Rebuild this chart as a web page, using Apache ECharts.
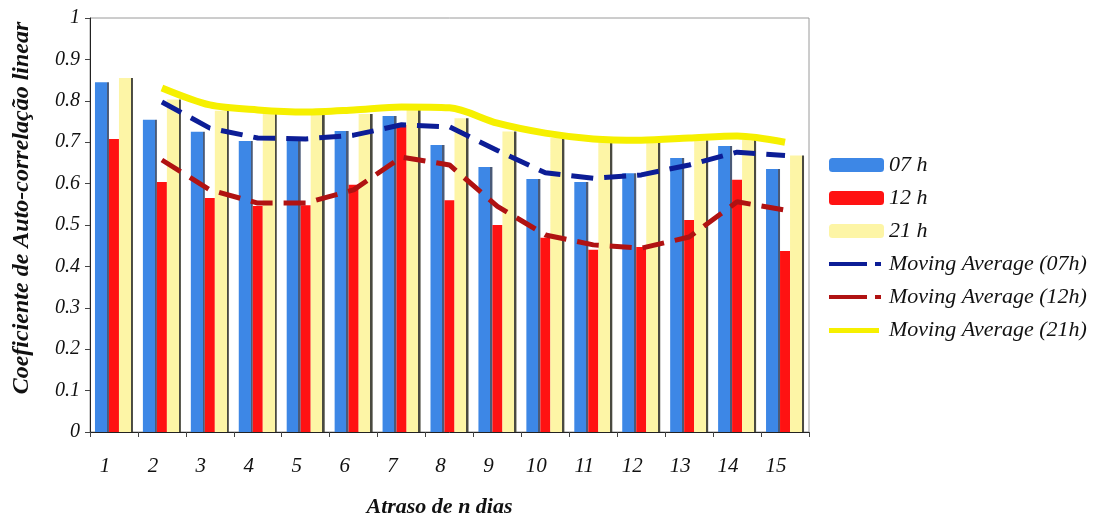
<!DOCTYPE html>
<html><head><meta charset="utf-8">
<script src="https://cdn.jsdelivr.net/npm/echarts@6/dist/echarts.min.js"></script>
<style>html,body{margin:0;padding:0;background:#fff;}#c{width:1103px;height:523px;}</style>
</head><body><div id="c"></div>
<script>
var categories = ['1','2','3','4','5','6','7','8','9','10','11','12','13','14','15'];
var yTicks = [0,0.1,0.2,0.3,0.4,0.5,0.6,0.7,0.8,0.9,1];
var h07 = [0.845,0.754,0.725,0.703,0.710,0.727,0.763,0.693,0.640,0.611,0.604,0.625,0.662,0.691,0.635];
var h12 = [0.708,0.604,0.565,0.546,0.548,0.597,0.742,0.560,0.500,0.469,0.440,0.447,0.512,0.609,0.437];
var h21 = [0.855,0.803,0.776,0.771,0.767,0.768,0.780,0.758,0.726,0.710,0.700,0.702,0.705,0.706,0.668];
var ma07 = [null,0.797,0.734,0.710,0.708,0.717,0.742,0.737,0.680,0.626,0.613,0.621,0.645,0.676,0.668];
var ma12 = [null,0.657,0.585,0.553,0.553,0.585,0.664,0.645,0.545,0.476,0.452,0.444,0.471,0.556,0.536];
var ma21 = [null,0.831,0.790,0.778,0.773,0.778,0.785,0.783,0.746,0.722,0.708,0.705,0.710,0.715,0.700];

var FONT = '"Liberation Serif", "Times New Roman", serif';
var DASH_ICON = 'path://M0,0M55,14M0,5h38v4h-38zM46,5h6v4h-6z';
var SOLID_ICON = 'path://M0,0M55,14M0,5h50v5h-50z';
function strip(base, dark, f) {
  return new echarts.graphic.LinearGradient(0,0,1,0,[
    {offset:0,color:base},{offset:f,color:base},{offset:f,color:dark},{offset:1,color:dark}]);
}
var chart = echarts.init(document.getElementById('c'));
chart.setOption({
  animation:false,
  backgroundColor:'#fff',
  grid:{left:90,right:294,top:18,bottom:91,show:true,borderColor:'#9a9a9a',borderWidth:1,
    outerBoundsMode:'none',containLabel:false},
  legend:{
    orient:'vertical', left:824, top:149, itemWidth:55, itemHeight:14, itemGap:11,
    textStyle:{fontFamily:FONT,fontStyle:'italic',fontSize:22,color:'#111',lineHeight:20},
    data:[
      {name:'07 h',itemStyle:{color:'#3d87e6'}},
      {name:'12 h',itemStyle:{color:'#ff1212'}},
      {name:'21 h',itemStyle:{color:'#fdf5a6'}},
      {name:'Moving Average (07h)',icon:DASH_ICON,itemStyle:{color:'#0c1d96'}},
      {name:'Moving Average (12h)',icon:DASH_ICON,itemStyle:{color:'#b01212'}},
      {name:'Moving Average (21h)',icon:SOLID_ICON,itemStyle:{color:'#f6f000'}}]
  },
  xAxis:{
    type:'category', data:categories, boundaryGap:true,
    axisLine:{lineStyle:{color:'#222',width:1}},
    axisTick:{show:true,length:5,lineStyle:{color:'#444'}},
    axisLabel:{fontFamily:FONT,fontStyle:'italic',fontSize:21,color:'#111',margin:24,padding:[0,18,0,0]},
    name:'Atraso de n dias', nameLocation:'middle', nameGap:64,
    nameTextStyle:{fontFamily:FONT,fontStyle:'italic',fontWeight:'bold',fontSize:22,color:'#111',padding:[0,20,0,0]}
  },
  yAxis:{
    type:'value', min:0, max:1, interval:0.1,
    axisLine:{show:true,lineStyle:{color:'#222',width:1}},
    axisTick:{show:true,length:5,lineStyle:{color:'#444'}},
    splitLine:{show:false},
    axisLabel:{fontFamily:FONT,fontStyle:'italic',fontSize:20,color:'#111',margin:10,
      formatter:function(v){ var s=yTicks.map(String); var i=yTicks.indexOf(Math.round(v*10)/10); return i>=0?s[i]:''; }},
    name:'Coeficiente de Auto-correlação linear', nameLocation:'middle', nameGap:56,
    nameTextStyle:{fontFamily:FONT,fontStyle:'italic',fontWeight:'bold',fontSize:24,color:'#111',padding:[0,0,0,34]}
  },
  series:[
    {name:'07 h',type:'bar',data:h07,barWidth:14,barGap:'0%',itemStyle:{color:strip('#3d87e6','#4a5a78',0.84)}},
    {name:'12 h',type:'bar',data:h12,barWidth:10,barGap:'0%',itemStyle:{color:'#ff1212'}},
    {name:'21 h',type:'bar',data:h21,barWidth:14,barGap:'0%',itemStyle:{color:strip('#fdf5a6','#4a4a40',0.84)}},
    {name:'Moving Average (07h)',type:'line',data:ma07,symbol:'none',z:5,
      lineStyle:{color:'#0c1d96',width:5,type:[22,11]},itemStyle:{color:'#0c1d96'}},
    {name:'Moving Average (12h)',type:'line',data:ma12,symbol:'none',z:5,
      lineStyle:{color:'#b01212',width:5,type:[22,11]},itemStyle:{color:'#b01212'}},
    {name:'Moving Average (21h)',type:'line',data:ma21,symbol:'none',z:5,smooth:0.3,
      lineStyle:{color:'#f6f000',width:7},itemStyle:{color:'#f6f000'}}
  ]
});
</script></body></html>
